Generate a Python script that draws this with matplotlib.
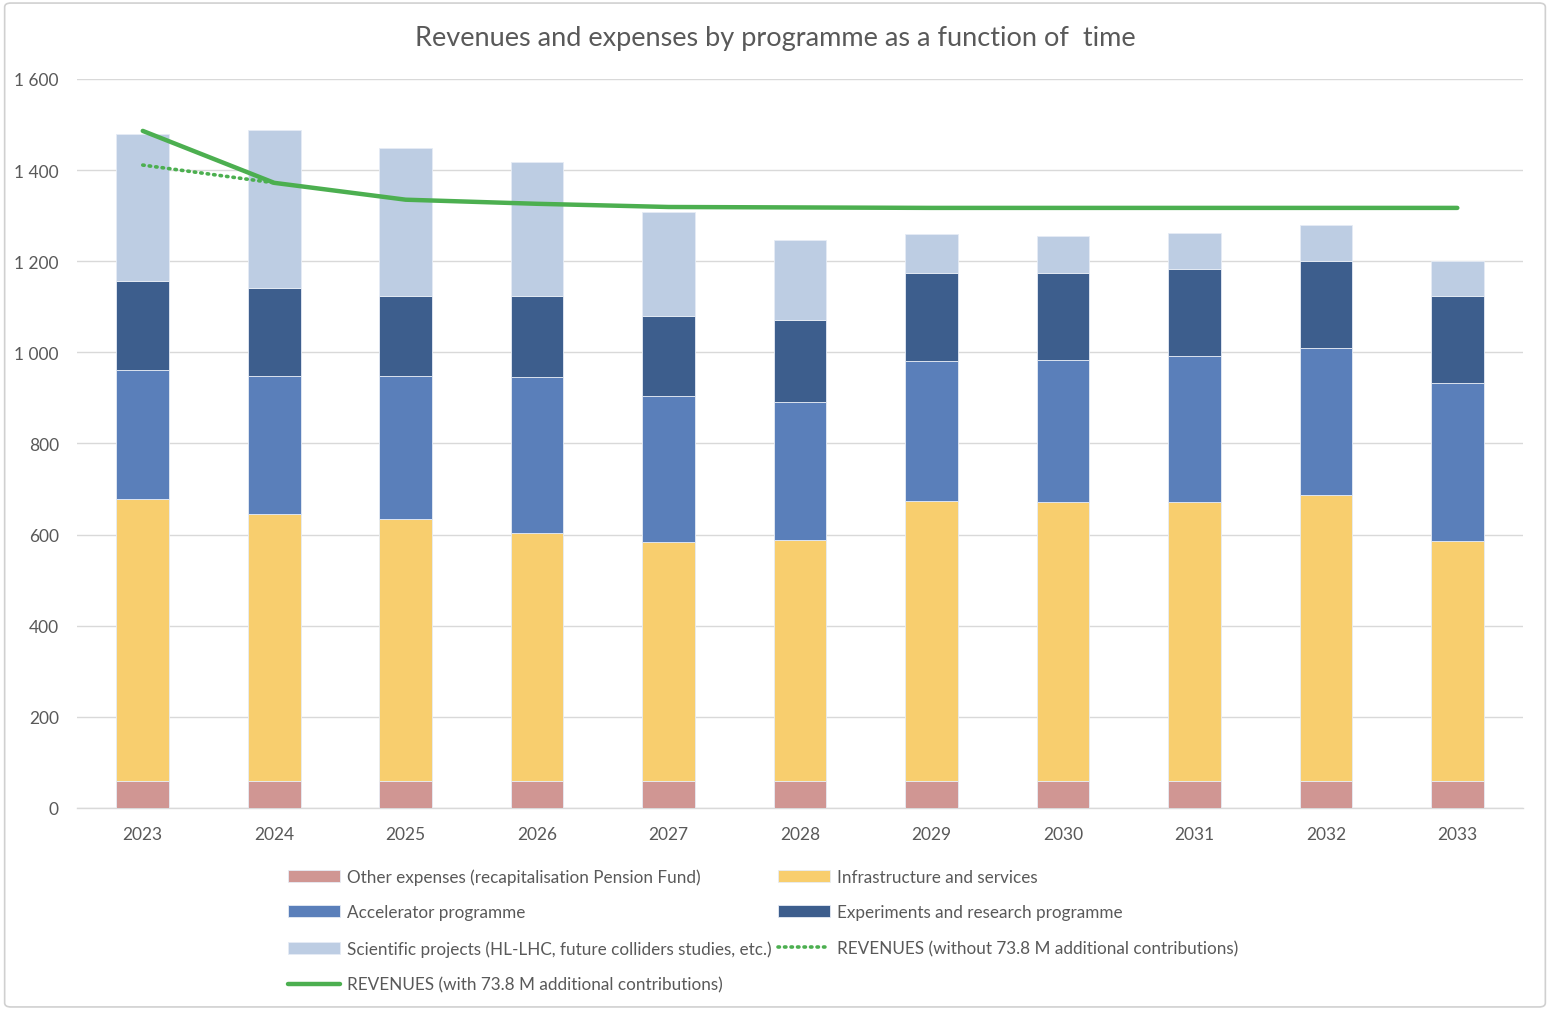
import matplotlib
matplotlib.use("Agg")
import matplotlib.pyplot as plt
from matplotlib.ticker import FuncFormatter
from matplotlib.patches import FancyBboxPatch
import numpy as np

years = ["2023", "2024", "2025", "2026", "2027", "2028", "2029", "2030", "2031", "2032", "2033"]

# Expenses by programme (MCHF), stacked from bottom to top
other_expenses = [60, 60, 60, 60, 60, 60, 60, 60, 60, 60, 60]
infrastructure = [618, 585, 574, 544, 524, 528, 614, 612, 612, 627, 526]
accelerator = [283, 303, 314, 342, 320, 303, 307, 311, 320, 323, 347]
experiments = [196, 193, 176, 178, 176, 180, 193, 191, 191, 191, 191]
scientific = [322, 347, 325, 294, 228, 176, 86, 82, 79, 79, 77]

# Revenues
revenues_with = [1486, 1372, 1335, 1326, 1319, 1318, 1317, 1317, 1317, 1317, 1317]
revenues_without = [1411, 1372]

series = [
    ("Other expenses (recapitalisation Pension Fund)", other_expenses, "#D09693"),
    ("Infrastructure and services", infrastructure, "#F8CE6E"),
    ("Accelerator programme", accelerator, "#5A7FBA"),
    ("Experiments and research programme", experiments, "#3D5E8D"),
    ("Scientific projects (HL-LHC, future colliders studies, etc.)", scientific, "#BDCDE3"),
]

plt.rcParams["font.family"] = ["Lato", "DejaVu Sans"]

fig = plt.figure(figsize=(15.5, 10.12), dpi=100)
ax = fig.add_axes([0.0497, 0.2006, 0.9329, 0.7204])

x = np.arange(len(years))
bottom = np.zeros(len(years))
handles = {}
for label, vals, color in series:
    vals = np.array(vals, dtype=float)
    h = ax.bar(x, vals, width=0.40, bottom=bottom, color=color, label=label,
               edgecolor="#E6ECF5", linewidth=0.6, zorder=3)
    handles[label] = h
    bottom += vals

lw, = ax.plot(x, revenues_with, color="#4CAF50", linewidth=3.2,
              solid_capstyle="round", solid_joinstyle="round", zorder=4,
              label="REVENUES (with 73.8 M additional contributions)")
ld, = ax.plot(x[:len(revenues_without)], revenues_without, color="#4CAF50",
              linewidth=2.6, linestyle=(0, (0.4, 1.4)), dash_capstyle="round",
              zorder=4, label="REVENUES (without 73.8 M additional contributions)")

ax.set_xlim(-0.5, 10.5)
ax.set_ylim(0, 1600)
ax.set_yticks(np.arange(0, 1601, 200))
ax.yaxis.set_major_formatter(FuncFormatter(lambda v, p: f"{int(v):,}".replace(",", " ")))
ax.set_xticks(x)
ax.set_xticklabels(years)
ax.grid(axis="y", color="#D9D9D9", linewidth=1.0, zorder=0)
ax.set_axisbelow(True)
for s in ["top", "right", "left"]:
    ax.spines[s].set_visible(False)
ax.spines["bottom"].set_color("#D9D9D9")
ax.spines["bottom"].set_linewidth(1.0)
ax.tick_params(axis="both", length=0, labelsize=12.5, labelcolor="#595959")
ax.tick_params(axis="y", pad=13)
ax.tick_params(axis="x", pad=13)

fig.text(0.5, 0.962, "Revenues and expenses by programme as a function of  time",
         ha="center", va="center", fontsize=19.5, color="#595959")

names = [s[0] for s in series]
order = [handles[names[0]], handles[names[2]], handles[names[4]], lw,
         handles[names[1]], handles[names[3]], ld]
labels = [names[0], names[2], names[4], lw.get_label(),
          names[1], names[3], ld.get_label()]
fig.legend(order, labels, ncol=2, loc="upper left", bbox_to_anchor=(0.1813, 0.148),
           frameon=False, fontsize=12.35, labelcolor="#595959", handlelength=3.03,
           handleheight=0.7, handletextpad=0.4, columnspacing=0.4,
           labelspacing=1.15, borderaxespad=0)

border = FancyBboxPatch((0.003, 0.004), 0.994, 0.992, boxstyle="round,pad=0,rounding_size=0.004",
                        transform=fig.transFigure, fill=False, edgecolor="#D0D0D0",
                        linewidth=1.2)
fig.patches.append(border)

fig.savefig("out.png", dpi=100, facecolor="white")
